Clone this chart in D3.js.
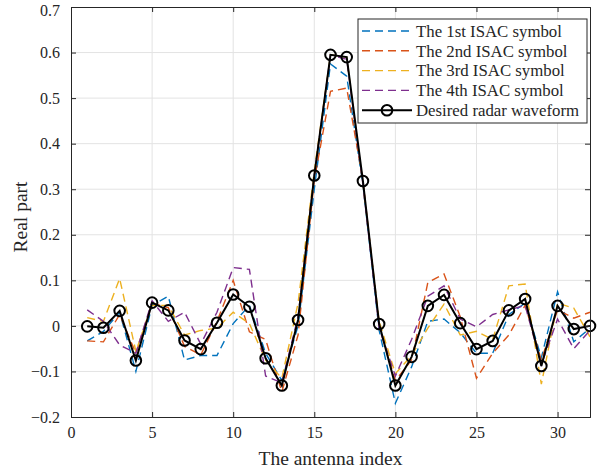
<!DOCTYPE html>
<html>
<head>
<meta charset="utf-8">
<script src="https://cdn.jsdelivr.net/npm/d3@7/dist/d3.min.js"></script>
<style>
  html, body { margin: 0; padding: 0; background: #fff; }
  svg { display: block; }
  text { font-family: "Liberation Serif", "Times New Roman", serif; fill: #262626; }
</style>
</head>
<body>
<svg id="chart" width="606" height="471"></svg>
<script>
// Antenna indices 1..32
const antennaIndex = d3.range(1, 33);

const symbol1 = [-0.033, -0.012, 0.03, -0.10, 0.045, 0.065, -0.075, -0.065, -0.065, 0.005, 0.045, -0.06,
  -0.12, 0.0, 0.30, 0.575, 0.548, 0.31, -0.01, -0.17, -0.09, 0.01, 0.015, -0.015, -0.06, -0.06, 0.025, 0.05,
  -0.07, 0.075, -0.035, -0.005];
const symbol2 = [-0.033, -0.035, 0.025, -0.06, 0.05, 0.04, -0.045, -0.064, 0.01, 0.10, -0.013, -0.03,
  -0.145, -0.02, 0.32, 0.515, 0.522, 0.32, 0.0, -0.12, -0.075, 0.095, 0.114, 0.02, -0.115, -0.06, -0.02, 0.045,
  -0.075, 0.035, 0.017, 0.03];
const symbol3 = [0.018, 0.01, 0.104, -0.056, 0.045, 0.045, -0.02, -0.01, -0.005, 0.03, 0.005, -0.075,
  -0.115, 0.05, 0.34, 0.595, 0.59, 0.31, 0.01, -0.105, -0.065, -0.005, 0.048, -0.02, -0.012, -0.03, 0.088, 0.092,
  -0.128, 0.05, 0.039, -0.024];
const symbol4 = [0.035, 0.01, -0.042, -0.06, 0.055, 0.01, 0.03, -0.04, 0.03, 0.128, 0.124, -0.11,
  -0.125, 0.02, 0.33, 0.595, 0.585, 0.31, -0.005, -0.11, -0.03, 0.065, 0.088, 0.015, -0.002, 0.025, 0.035, 0.045,
  -0.085, 0.015, -0.05, -0.01];
const desired = [-0.001, -0.004, 0.033, -0.076, 0.051, 0.034, -0.032, -0.051, 0.007, 0.069, 0.042, -0.071,
  -0.131, 0.013, 0.330, 0.595, 0.590, 0.318, 0.004, -0.131, -0.068, 0.044, 0.068, 0.006, -0.051, -0.033, 0.034, 0.059,
  -0.088, 0.044, -0.007, 0.0];

const seriesNames = ["The 1st ISAC symbol", "The 2nd ISAC symbol", "The 3rd ISAC symbol",
  "The 4th ISAC symbol", "Desired radar waveform"];
const seriesColors = ["#0072BD", "#D95319", "#EDB120", "#7E2F8E", "#000000"];

const xTicks = [0, 5, 10, 15, 20, 25, 30];
const yTicks = [-0.2, -0.1, 0, 0.1, 0.2, 0.3, 0.4, 0.5, 0.6, 0.7];

const svg = d3.select("#chart");
const plotLeft = 71, plotRight = 590, plotTop = 7, plotBottom = 417;

const x = d3.scaleLinear().domain([0, 32]).range([plotLeft, plotRight]);
const y = d3.scaleLinear().domain([-0.2, 0.7]).range([plotBottom, plotTop]);

// grid
const grid = svg.append("g").attr("stroke", "#e3e3e3").attr("stroke-width", 1);
grid.selectAll("line.gx").data(xTicks.filter(d => d > 0)).join("line")
  .attr("x1", d => x(d)).attr("x2", d => x(d)).attr("y1", plotTop).attr("y2", plotBottom);
grid.selectAll("line.gy").data(yTicks.filter(d => d > -0.2 && d < 0.7)).join("line")
  .attr("x1", plotLeft).attr("x2", plotRight).attr("y1", d => y(d)).attr("y2", d => y(d));

// dashed ISAC symbol curves
const line = d3.line().x((d, i) => x(antennaIndex[i])).y(d => y(d));
[symbol1, symbol2, symbol3, symbol4].forEach((s, k) => {
  svg.append("path").datum(s)
    .attr("d", line)
    .attr("fill", "none")
    .attr("stroke", seriesColors[k])
    .attr("stroke-width", 1.4)
    .attr("stroke-dasharray", "8,5");
});

// desired radar waveform
svg.append("path").datum(desired)
  .attr("d", line)
  .attr("fill", "none")
  .attr("stroke", "#000")
  .attr("stroke-width", 2);
svg.append("g").selectAll("circle").data(desired).join("circle")
  .attr("cx", (d, i) => x(antennaIndex[i]))
  .attr("cy", d => y(d))
  .attr("r", 5.3)
  .attr("fill", "none")
  .attr("stroke", "#000")
  .attr("stroke-width", 2);

// axes
const xAxis = d3.axisBottom(x).tickValues(xTicks).tickSize(-5).tickPadding(10).tickFormat(d3.format("d"));
const yAxis = d3.axisLeft(y).tickValues(yTicks).tickSize(-5).tickPadding(11).tickFormat(d => d === 0 ? "0" : d3.format(".1f")(d));
const gx = svg.append("g").attr("transform", `translate(0,${plotBottom})`).call(xAxis);
const gy = svg.append("g").attr("transform", `translate(${plotLeft},0)`).call(yAxis);
[gx, gy].forEach(g => {
  g.select(".domain").attr("stroke", "#262626");
  g.selectAll(".tick line").attr("stroke", "#262626");
  g.selectAll("text").attr("font-size", 16).attr("font-family", "Liberation Serif, serif").attr("fill", "#262626");
});
// keep the topmost y label inside the canvas
gy.selectAll(".tick text").filter(d => d === 0.7).attr("dy", "0.5em");
// top and right box edges with ticks
const gxTop = svg.append("g").attr("transform", `translate(0,${plotTop})`)
  .call(d3.axisTop(x).tickValues(xTicks).tickSize(-5).tickFormat(""));
const gyRight = svg.append("g").attr("transform", `translate(${plotRight},0)`)
  .call(d3.axisRight(y).tickValues(yTicks).tickSize(-5).tickFormat(""));
[gxTop, gyRight].forEach(g => {
  g.select(".domain").attr("stroke", "#262626");
  g.selectAll(".tick line").attr("stroke", "#262626");
});

// axis titles
svg.append("text").attr("x", (plotLeft + plotRight) / 2).attr("y", 465)
  .attr("text-anchor", "middle").attr("font-size", 19.5).text("The antenna index");
svg.append("text").attr("transform", `translate(27,217) rotate(-90)`)
  .attr("text-anchor", "middle").attr("font-size", 19.5).text("Real part");

// legend
const lg = svg.append("g");
lg.append("rect").attr("x", 358).attr("y", 19).attr("width", 229).attr("height", 104)
  .attr("fill", "#fff").attr("stroke", "#262626").attr("stroke-width", 1);
seriesNames.forEach((name, k) => {
  const ly = 31 + k * 19.8;
  const l = lg.append("line").attr("x1", 362).attr("x2", 412).attr("y1", ly).attr("y2", ly)
    .attr("stroke", seriesColors[k]);
  if (k < 4) {
    l.attr("stroke-width", 1.4).attr("stroke-dasharray", "8,5");
  } else {
    l.attr("stroke-width", 2);
    lg.append("circle").attr("cx", 387).attr("cy", ly).attr("r", 5.3)
      .attr("fill", "none").attr("stroke", "#000").attr("stroke-width", 2);
  }
  lg.append("text").attr("x", 416).attr("y", ly).attr("dy", "0.35em")
    .attr("font-size", 16.8).text(name);
});
</script>
</body>
</html>
